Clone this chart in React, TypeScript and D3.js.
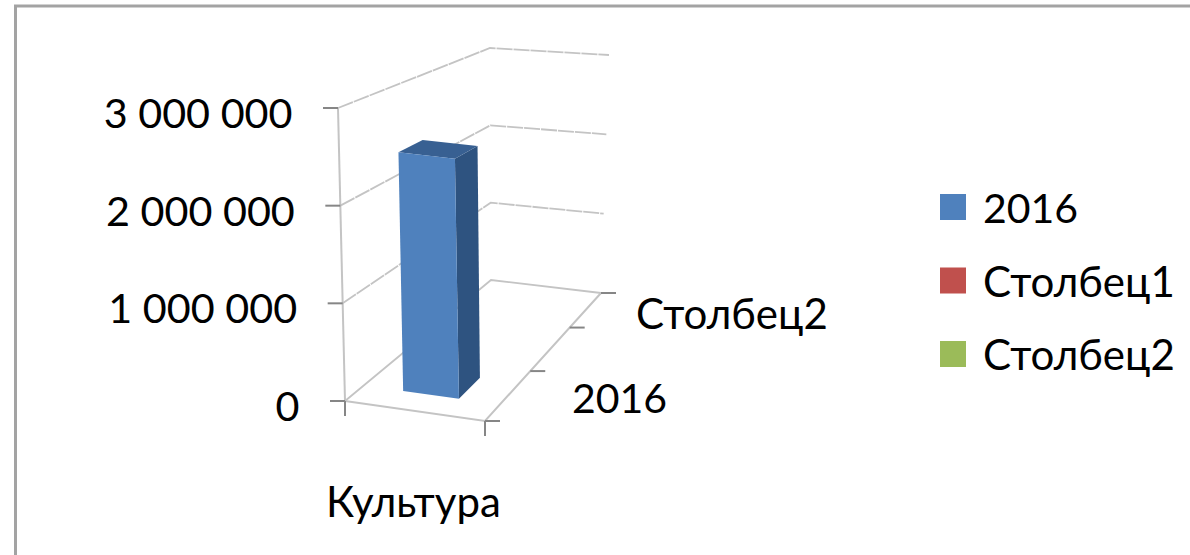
import React from "react";
import { scaleLinear, scaleBand, line } from "d3";

const categories = ["Культура"];
const seriesNames = ["2016", "Столбец1", "Столбец2"];
const seriesColors = ["#4F81BD", "#C0504D", "#9BBB59"];
const values2016 = [2500000];
const valueTicks = [0, 1000000, 2000000, 3000000];
const tickLabels = ["0", "1 000 000", "2 000 000", "3 000 000"];
const depthLabels = ["2016", "", "Столбец2"];

const W = 1190;
const H = 555;

// floor corners and the top of the walls, as the picture projects them
const floorFL = [345, 401];
const floorFR = [485, 421];
const floorBL = [491, 280];
const floorBR = [601, 293];
const topFL = [338, 108];
const topFR = [479, 124];
const topBL = [490, 48];
const topBR = [609, 55];

const valueT = scaleLinear().domain([0, 3000000]).range([0, 1]);
// perspective squeezes the depth axis a bit
const depthT = scaleLinear().domain([0, 1, 2, 3]).range([0, 0.39, 0.73, 1]);
const catBand = scaleBand().domain(categories).range([0, 1]).paddingInner(0).paddingOuter(0.72).align(0.49);

const mix = (a: number[], b: number[], t: number) => [a[0] + (b[0] - a[0]) * t, a[1] + (b[1] - a[1]) * t];

// u along category axis, d along series axis (0..3), v the value
function project(u: number, d: number, v: number) {
  const t = depthT(d);
  const w = valueT(v);
  const fl = mix(floorFL, topFL, w);
  const fr = mix(floorFR, topFR, w);
  const bl = mix(floorBL, topBL, w);
  const br = mix(floorBR, topBR, w);
  return mix(mix(fl, fr, u), mix(bl, br, u), t) as [number, number];
}

const path = line();
const poly = (pts: [number, number][]) => path(pts) + "Z";

export default function App() {
  const fontFamily = "Lato, Carlito, 'Open Sans', sans-serif";
  const u0 = catBand(categories[0]) as number;
  const u1 = u0 + catBand.bandwidth();
  const d0 = 0.33;
  const d1 = 0.76;
  const v = values2016[0];
  return (
    <svg
      width={W}
      height={H}
      style={{ position: "absolute", left: 0, top: 0, background: "#fff" }}
    >
      <defs>
        <filter id="soft" x="-5%" y="-5%" width="110%" height="110%">
          <feGaussianBlur stdDeviation="0.7" />
        </filter>
      </defs>
      <path d={`M15.5,555V6H${W}`} fill="none" stroke="#a3a3a3" strokeWidth={3} />
      <g filter="url(#soft)">
        {valueTicks.map((t) => (
          <path
            key={t}
            d={path([project(0, 0, t), project(0, 3, t), project(1, 3, t)]) as string}
            fill="none"
            stroke="#c4c4c4"
            strokeWidth={1.8}
            strokeDasharray={t === 0 ? undefined : "16 1"}
          />
        ))}
        <path d={path([project(0, 0, 0), project(0, 0, 3000000)]) as string} stroke="#c4c4c4" strokeWidth={2} fill="none" />
        <path d={path([project(0, 0, 0), project(1, 0, 0), project(1, 3, 0)]) as string} stroke="#c4c4c4" strokeWidth={2} fill="none" />
        {valueTicks.map((t) => {
          const [x, y] = project(0, 0, t);
          return <path key={t} d={`M${x - 15},${y}H${x}`} stroke="#868686" strokeWidth={2} />;
        })}
        {[0, 1, 2, 3].map((d) => {
          const [x, y] = project(1, d, 0);
          return <path key={d} d={`M${x},${y}H${x + 15}`} stroke="#868686" strokeWidth={2} />;
        })}
        {[0, 1].map((u) => {
          const [x, y] = project(u, 0, 0);
          return <path key={u} d={`M${x},${y}V${y + 15}`} stroke="#868686" strokeWidth={2} />;
        })}
        <path
          d={poly([project(u1, d0, v), project(u1, d1, v), project(u1, d1, 0), project(u1, d0, 0)])}
          fill="#2F5380"
        />
        <path
          d={poly([project(u0, d0, v), project(u0, d1, v), project(u1, d1, v), project(u1, d0, v)])}
          fill="#386092"
        />
        <path
          d={poly([project(u0, d0, v), project(u1, d0, v), project(u1, d0, 0), project(u0, d0, 0)])}
          fill={seriesColors[0]}
        />
      </g>
      <g fontFamily={fontFamily} fontSize={42} fill="#000">
        {valueTicks.map((t, i) => {
          const [x, y] = project(0, 0, t);
          return (
            <text key={t} x={x - 45.5} y={y + 20} fontSize={41.3} textAnchor="end">
              {tickLabels[i]}
            </text>
          );
        })}
        {depthLabels.map((label, i) =>
          label ? (
            <text key={label} x={i === 0 ? 572 : 636} y={i === 0 ? 413 : 329} fontSize={i === 0 ? 41 : 42}>
              {label}
            </text>
          ) : null
        )}
        <text x={326} y={517}>
          {categories[0]}
        </text>
        {seriesNames.map((name, i) => (
          <text key={name} x={983} y={223 + i * 73.5} fontSize={i === 0 ? 41 : 42}>
            {name}
          </text>
        ))}
      </g>
      {seriesNames.map((name, i) => (
        <rect key={name} x={940} y={194 + i * 73.5} width={26} height={26} fill={seriesColors[i]} />
      ))}
    </svg>
  );
}
